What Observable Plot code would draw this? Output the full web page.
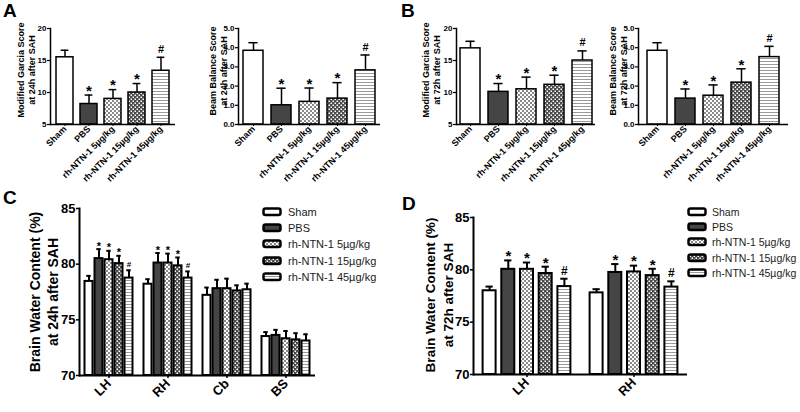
<!DOCTYPE html>
<html><head><meta charset="utf-8">
<script src="https://cdn.jsdelivr.net/npm/d3@7"></script>
<script src="https://cdn.jsdelivr.net/npm/@observablehq/plot@0.6"></script>
<style>
body{margin:0;background:#fff;}
#fig{position:relative;width:800px;height:412px;overflow:hidden;font-family:"Liberation Sans",Arial,sans-serif;color:#000;background:#fff;}
.pane{position:absolute;}
.letter{position:absolute;font-weight:bold;font-size:19px;line-height:1;}
.ylab{position:absolute;font-weight:bold;text-align:center;white-space:nowrap;transform:translate(-50%,-50%) rotate(-90deg);}
.ltxt{position:absolute;white-space:nowrap;line-height:1;color:#222;transform:translateY(-50%);}
</style></head>
<body>
<svg width="0" height="0" style="position:absolute">
<defs>
<pattern id="p5" patternUnits="userSpaceOnUse" width="4" height="4">
  <rect width="4" height="4" fill="#fff"/>
  <rect width="2" height="2" fill="#8a8a8a"/>
  <rect x="2" y="2" width="2" height="2" fill="#8a8a8a"/>
</pattern>
<pattern id="p15" patternUnits="userSpaceOnUse" width="4" height="4">
  <rect width="4" height="4" fill="#4a4a4a"/>
  <rect x="0.5" y="0.5" width="1.5" height="1.5" fill="#fff"/>
  <rect x="2.5" y="2.5" width="1.5" height="1.5" fill="#fff"/>
</pattern>
<pattern id="p45" patternUnits="userSpaceOnUse" width="4" height="3">
  <rect width="4" height="3" fill="#fff"/>
  <rect y="1" width="4" height="1" fill="#9a9a9a"/>
</pattern>
</defs>
</svg>
<div id="fig"></div>
<script>
// ---------- data ----------
const groups = ["Sham", "PBS", "rh-NTN-1 5µg/kg", "rh-NTN-1 15µg/kg", "rh-NTN-1 45µg/kg"];
const fills = ["white", "#454545", "url(#p5)", "url(#p15)", "url(#p45)"];
const sigScores = ["", "*", "*", "*", "#"];

const garcia24Mean = [15.5, 8.2, 9.0, 10.0, 13.4];
const garcia24Err  = [1.1, 1.4, 1.45, 1.4, 2.1];
const beam24Mean   = [3.84, 1.0, 1.18, 1.35, 2.82];
const beam24Err    = [0.42, 0.89, 0.72, 0.83, 0.8];
const garcia72Mean = [16.9, 10.1, 10.5, 11.2, 15.0];
const garcia72Err  = [1.1, 1.3, 1.9, 1.5, 1.5];
const beam72Mean   = [3.84, 1.35, 1.5, 2.18, 3.51];
const beam72Err    = [0.42, 0.5, 0.56, 0.72, 0.56];
const garciaTicks = [5, 10, 15, 20];
const beamTicks = [0, 1, 2, 3, 4, 5];

const regions24 = ["LH", "RH", "Cb", "BS"];
const water24LH = [78.45, 80.5, 80.4, 80.05, 78.75];
const water24LHErr = [0.5, 0.85, 0.8, 0.7, 0.7];
const water24RH = [78.2, 80.1, 80.1, 79.85, 78.75];
const water24RHErr = [0.45, 0.9, 0.85, 0.75, 0.6];
const water24Cb = [77.2, 77.8, 77.8, 77.6, 77.7];
const water24CbErr = [0.7, 0.8, 0.9, 0.5, 0.55];
const water24BS = [73.5, 73.6, 73.3, 73.2, 73.1];
const water24BSErr = [0.4, 0.5, 0.7, 0.6, 0.6];
const sig24 = [["", "*", "*", "*", "#"], ["", "*", "*", "*", "#"], ["", "", "", "", ""], ["", "", "", "", ""]];

const regions72 = ["LH", "RH"];
const water72LH = [78.0, 80.05, 80.05, 79.65, 78.4];
const water72LHErr = [0.4, 0.85, 0.65, 0.65, 0.75];
const water72RH = [77.8, 79.75, 79.8, 79.45, 78.35];
const water72RHErr = [0.35, 0.8, 0.6, 0.65, 0.55];
const sig72 = [["", "*", "*", "*", "#"], ["", "*", "*", "*", "#"]];
const waterTicks = [70, 75, 80, 85];

// ---------- helpers ----------
const fig = document.getElementById("fig");
function place(node, left, top) {
  const d = document.createElement("div");
  d.className = "pane"; d.style.left = left + "px"; d.style.top = top + "px";
  d.appendChild(node); fig.appendChild(d);
}
function letter(t, left, top) {
  const d = document.createElement("div");
  d.className = "letter"; d.textContent = t;
  d.style.left = left + "px"; d.style.top = top + "px"; fig.appendChild(d);
}
function ylab(lines, cx, cy, size, lh) {
  const d = document.createElement("div");
  d.className = "ylab"; d.style.left = cx + "px"; d.style.top = cy + "px";
  d.style.fontSize = size + "px"; d.style.lineHeight = lh + "px";
  d.innerHTML = lines.join("<br>"); fig.appendChild(d);
}
const plotStyle = {background: "transparent", overflow: "visible", fontFamily: "'Liberation Sans', Arial, sans-serif", color: "black"};

function scorePlot({mean, err, domain, ticks, width, height, ml, mr, mt, mb, pi, po}) {
  const data = groups.map((g, i) => ({g, m: mean[i], hi: mean[i] + err[i], sig: sigScores[i], fill: fills[i]}));
  const step = (width - ml - mr) / (5 - pi + 2 * po);
  const bw = step * (1 - pi);
  return Plot.plot({
    width, height, marginLeft: ml, marginRight: mr, marginTop: mt, marginBottom: mb,
    style: plotStyle,
    x: {domain: groups, paddingInner: pi, paddingOuter: po, label: null},
    y: {domain, label: null},
    color: {type: "identity"},
    marks: [
      Plot.barY(data, {x: "g", y1: domain[0], y2: "m", fill: "fill", stroke: "black", strokeWidth: 1.5}),
      Plot.ruleX(data, {x: "g", y1: "m", y2: "hi", stroke: "black", strokeWidth: 1.5}),
      Plot.tickY(data, {x: "g", y: "hi", stroke: "black", strokeWidth: 1.5, inset: bw * 0.27}),
      Plot.text(data.filter(d => d.sig === "*"), {x: "g", y: "hi", text: "sig", dy: -4, fontSize: 15, fontWeight: "bold"}),
      Plot.text(data.filter(d => d.sig === "#"), {x: "g", y: "hi", text: "sig", dy: -8, fontSize: 11, fontWeight: "bold"}),
      Plot.ruleY([domain[0]], {stroke: "black", strokeWidth: 1.5}),
      Plot.frame({anchor: "left", stroke: "black", strokeWidth: 1.5}),
      Plot.axisY({ticks, tickSize: 3, tickPadding: 1, fontSize: 8, fontWeight: "bold", label: null, strokeWidth: 1.2}),
      Plot.axisX({tickSize: 2, tickPadding: 1, tickRotate: -45, fontSize: 9, fontWeight: "bold", label: null})
    ]
  });
}

function waterPlot({regions, means, errs, sigs, width, height, ml, mr, mt, mb, subStep, subW, starSize, hashSize, starDy, hashDy, fs}) {
  const data = regions.flatMap((r, j) => groups.map((g, i) => ({r, i, m: means[j][i], hi: means[j][i] + errs[j][i], sig: sigs[j][i], fill: fills[i]})));
  const band = (width - ml - mr) / regions.length;
  const off0 = (band - (4 * subStep + subW)) / 2;
  const marks = [];
  for (let i = 0; i < 5; i++) {
    const d = data.filter(e => e.i === i);
    const left = off0 + i * subStep;
    const right = band - left - subW;
    const dx = left + subW / 2 - band / 2;
    marks.push(Plot.barY(d, {x: "r", y1: 70, y2: "m", fill: "fill", stroke: "black", strokeWidth: 2, insetLeft: left, insetRight: right}));
    marks.push(Plot.ruleX(d, {x: "r", y1: "m", y2: "hi", stroke: "black", strokeWidth: 2, dx}));
    marks.push(Plot.tickY(d, {x: "r", y: "hi", stroke: "black", strokeWidth: 2, insetLeft: left + subW * 0.22, insetRight: right + subW * 0.22}));
    marks.push(Plot.text(d.filter(e => e.sig === "*"), {x: "r", y: "hi", text: "sig", dx, dy: starDy, fontSize: starSize, fontWeight: "bold"}));
    marks.push(Plot.text(d.filter(e => e.sig === "#"), {x: "r", y: "hi", text: "sig", dx, dy: hashDy, fontSize: hashSize, fontWeight: "bold"}));
  }
  marks.push(Plot.ruleY([70], {stroke: "black", strokeWidth: 2}));
  marks.push(Plot.frame({anchor: "left", stroke: "black", strokeWidth: 2}));
  marks.push(Plot.axisY({ticks: waterTicks, tickSize: 3, tickPadding: 1, fontSize: fs, fontWeight: "bold", label: null, strokeWidth: 1.5}));
  marks.push(Plot.axisX({tickSize: 3, tickPadding: 3, tickRotate: -45, fontSize: fs, fontWeight: "bold", label: null, strokeWidth: 1.5}));
  return Plot.plot({
    width, height, marginLeft: ml, marginRight: mr, marginTop: mt, marginBottom: mb,
    style: plotStyle,
    x: {domain: regions, padding: 0, label: null},
    y: {domain: [70, 85], label: null},
    color: {type: "identity"},
    marks
  });
}

function legend(boxX, textX, y0, dy, fontSize) {
  groups.forEach((g, i) => {
    const cy = y0 + i * dy;
    const ns = "http://www.w3.org/2000/svg";
    const s = document.createElementNS(ns, "svg");
    s.setAttribute("width", 21); s.setAttribute("height", 10);
    s.style.position = "absolute"; s.style.left = (boxX - 1.5) + "px"; s.style.top = (cy - 5) + "px";
    const r = document.createElementNS(ns, "rect");
    r.setAttribute("x", 1.5); r.setAttribute("y", 1.5); r.setAttribute("width", 17); r.setAttribute("height", 6.5);
    r.setAttribute("rx", 2); r.setAttribute("fill", fills[i]); r.setAttribute("stroke", "black"); r.setAttribute("stroke-width", 2.5);
    s.appendChild(r); fig.appendChild(s);
    const t = document.createElement("div");
    t.className = "ltxt"; t.textContent = g; t.style.left = textX + "px"; t.style.top = cy + "px"; t.style.fontSize = fontSize + "px";
    fig.appendChild(t);
  });
}

// ---------- panels A / B ----------
place(scorePlot({mean: garcia24Mean, err: garcia24Err, domain: [5, 20], ticks: garciaTicks, width: 195, height: 180, ml: 50, mr: 20, mt: 28, mb: 56, pi: 0.3, po: 0.2}), 0, 0);
place(scorePlot({mean: beam24Mean, err: beam24Err, domain: [0, 5], ticks: beamTicks, width: 190, height: 180, ml: 38, mr: 10, mt: 28, mb: 56, pi: 0.3, po: 0.14}), 200, 0);
place(scorePlot({mean: garcia72Mean, err: garcia72Err, domain: [5, 20], ticks: garciaTicks, width: 200, height: 180, ml: 56, mr: 5, mt: 28, mb: 56, pi: 0.3, po: 0.09}), 400, 0);
place(scorePlot({mean: beam72Mean, err: beam72Err, domain: [0, 5], ticks: beamTicks, width: 200, height: 180, ml: 38, mr: 12, mt: 28, mb: 56, pi: 0.3, po: 0.3}), 600, 0);

// ---------- panels C / D ----------
place(waterPlot({regions: regions24, means: [water24LH, water24RH, water24Cb, water24BS], errs: [water24LHErr, water24RHErr, water24CbErr, water24BSErr], sigs: sig24,
  width: 330, height: 232, ml: 79, mr: 15, mt: 28, mb: 37, subStep: 10, subW: 8, starSize: 11, hashSize: 8, starDy: -3, hashDy: -6, fs: 13}), 0, 180);
place(waterPlot({regions: regions72, means: [water72LH, water72RH], errs: [water72LHErr, water72RHErr], sigs: sig72,
  width: 300, height: 232, ml: 73, mr: 13, mt: 37, mb: 38, subStep: 18.7, subW: 13, starSize: 15, hashSize: 12, starDy: -4, hashDy: -8, fs: 13}), 400, 180);

// ---------- labels ----------
letter("A", 3, 1); letter("B", 401, 1); letter("C", 3, 188); letter("D", 402, 194);
ylab(["Modified Garcia Score", "at 24h after SAH"], 27, 70, 9, 11);
ylab(["Beam Balance Score", "at 24h after SAH"], 219, 71, 9, 11);
ylab(["Modified Garcia Score", "at 72h after SAH"], 432, 70, 9, 11);
ylab(["Beam Balance Score", "at 72h after SAH"], 619, 71, 9, 11);
ylab(["Brain Water Content (%)", "at 24h after SAH"], 44, 292, 14, 18);
ylab(["Brain Water Content (%)", "at 72h after SAH"], 440, 295, 13.5, 18);

legend(263, 288, 212, 16.2, 11);
legend(688, 712, 212, 15.2, 10.5);
</script>
</body></html>
